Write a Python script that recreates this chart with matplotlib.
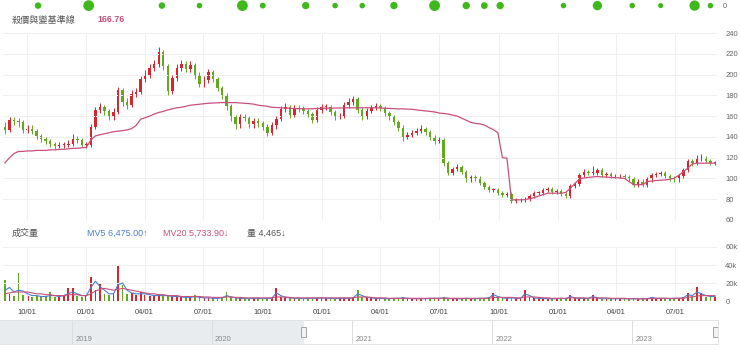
import matplotlib
matplotlib.use("Agg")
import matplotlib.pyplot as plt
import matplotlib.dates as mdates
from matplotlib.patches import Rectangle
import pandas as pd

plt.rcParams['font.family'] = ['Liberation Sans', 'Noto Sans CJK TC', 'DejaVu Sans']

W, H = 740, 355

# weekly data, first week
start = pd.Timestamp('2020-08-28')
first_open = 150

closes = [147, 156, 155, 154, 147, 148, 146, 141, 138, 136,
          133, 131, 132, 132, 133, 138, 137, 132, 132, 150,
          166, 169, 165, 159, 164, 185, 174, 171, 181, 183,
          196, 200, 206, 210, 222, 208, 184, 197, 206, 210,
          205, 209, 200, 191, 195, 202, 196, 187, 180, 170,
          159, 152, 159, 158, 152, 155, 153, 150, 144, 151,
          157, 167, 169, 161, 168, 167, 165, 162, 156, 166,
          169, 169, 164, 159, 160, 171, 174, 176, 166, 159,
          165, 168, 170, 168, 163, 159, 154, 149, 140, 142,
          144, 146, 148, 145, 140, 136, 137, 115, 105, 109,
          111, 106, 99, 101, 100, 96, 92, 89, 89, 86,
          84, 85, 78, 79, 79, 80, 83, 86, 86, 89,
          90, 87, 88, 85, 83, 93, 95, 103, 106, 105,
          105, 108, 103, 104, 102, 102, 102, 101, 99, 94,
          97, 94, 99, 103, 104, 105, 102, 100, 99, 102,
          108, 117, 115, 119, 120, 117, 115, 115]

highs = [154, 159, 159, 158, 156, 151, 151, 148, 143, 140,
         138, 135, 135, 135, 137, 143, 141, 139, 135, 152,
         169, 173, 171, 167, 168, 188, 187, 177, 185, 187,
         199, 204, 210, 214, 227, 224, 210, 200, 210, 214,
         213, 213, 211, 202, 199, 205, 204, 198, 189, 182,
         172, 161, 162, 162, 160, 158, 158, 155, 152, 154,
         160, 170, 173, 171, 171, 171, 170, 167, 164, 169,
         172, 172, 171, 166, 163, 174, 177, 179, 178, 168,
         168, 171, 173, 172, 170, 165, 161, 156, 151, 145,
         147, 149, 151, 150, 147, 142, 140, 139, 117, 111,
         114, 113, 108, 103, 103, 102, 98, 94, 91, 91,
         88, 87, 87, 81, 81, 82, 85, 88, 88, 91,
         92, 92, 90, 90, 87, 95, 97, 105, 109, 108,
         112, 110, 110, 106, 106, 104, 104, 104, 103, 101,
         99, 99, 101, 105, 106, 107, 107, 104, 102, 104,
         110, 119, 119, 123, 124, 122, 119, 117]

lows = [143, 145, 151, 150, 144, 144, 143, 138, 135, 133,
        130, 128, 129, 129, 130, 131, 134, 130, 129, 130,
        148, 163, 161, 156, 156, 162, 170, 167, 169, 178,
        181, 193, 197, 203, 207, 204, 180, 181, 194, 203,
        202, 202, 196, 188, 188, 192, 193, 184, 176, 166,
        155, 148, 149, 155, 149, 149, 150, 147, 141, 142,
        148, 155, 164, 158, 159, 164, 162, 159, 153, 154,
        163, 166, 161, 156, 157, 158, 168, 171, 163, 156,
        157, 163, 166, 165, 160, 156, 151, 146, 136, 138,
        140, 142, 144, 142, 137, 133, 134, 112, 103, 103,
        107, 104, 97, 97, 98, 94, 90, 87, 87, 84,
        82, 82, 76, 76, 77, 77, 78, 81, 84, 84,
        87, 85, 85, 83, 81, 81, 91, 93, 101, 103,
        103, 103, 101, 101, 100, 100, 100, 99, 97, 92,
        92, 92, 92, 97, 101, 102, 100, 98, 97, 97,
        100, 106, 112, 113, 117, 115, 113, 113]

base_line = [115, 120, 124, 126, 126, 126.5, 126.5, 127, 127, 127,
             127.5, 127.5, 128, 128, 128.5, 129, 129, 129.5, 130, 137,
             141, 142, 143, 144, 145, 145.5, 146, 146.7, 148, 151,
             157, 158.5, 160, 162, 163.5, 164.5, 166, 167, 168, 168.5,
             169.5, 170.5, 171, 171.5, 172, 172.4, 172.6, 172.8, 173, 173,
             173, 173, 172.7, 172.4, 172, 171.5, 170.5, 170, 169.5, 168.5,
             168.3, 168, 167.8, 167.5, 167.3, 167.2, 167, 167, 167.2, 167.4,
             167.5, 167.6, 167.7, 167.8, 167.9, 168, 168, 168, 168, 168,
             168, 168, 168, 167.8, 167.6, 167.4, 167.2, 167, 167, 166.8,
             166.5, 166, 165.5, 165, 164.5, 164, 163, 162.5, 162, 161,
             160, 158, 156, 154, 153, 152.5, 151.5, 149, 147, 144,
             120, 119.5, 79.5, 79.4, 79.4, 79.6, 80.5, 81.5, 83, 84.5,
             85.8, 85.8, 85.8, 85.8, 86.5, 90.5, 95, 99.5, 100.5, 101,
             101.5, 101.8, 101.5, 101.3, 101, 100.8, 100.5, 100, 97, 94,
             94, 94, 97, 97.5, 98, 98.3, 98.6, 99.2, 100.2, 103,
             106.5, 110, 114, 114.7, 114.7, 114.7, 114.7, 114.7]

volume_k = [23, 8, 6, 31, 7, 6, 5, 6, 5, 6,
            10, 5, 5, 6, 15, 14, 6, 5, 6, 27,
            12, 20, 8, 7, 9, 40, 18, 8, 9, 7,
            10, 7, 6, 6, 8, 6, 7, 5, 5, 4,
            4, 4, 7, 4, 3, 3, 3, 3, 4, 10,
            4, 3, 3, 3, 2, 3, 3, 2, 3, 3,
            14, 5, 4, 3, 3, 3, 2, 3, 3, 3,
            4, 3, 3, 2, 3, 3, 3, 4, 12, 5,
            4, 3, 3, 3, 2, 2, 3, 3, 4, 3,
            2, 2, 2, 2, 3, 3, 3, 4, 3, 2,
            2, 2, 3, 2, 2, 3, 3, 4, 9, 4,
            3, 3, 4, 3, 3, 12, 5, 3, 3, 3,
            2, 2, 2, 3, 2, 7, 3, 3, 3, 3,
            7, 3, 2, 2, 2, 2, 2, 2, 2, 2,
            2, 2, 2, 5, 3, 3, 3, 2, 3, 3,
            4, 9, 6, 16, 9, 5, 4, 4]

mv5_k = [12, 15, 10, 12, 11, 8, 6, 6, 5, 5,
         6, 6, 5, 6, 8, 10, 8, 6, 6, 15,
         22, 16, 12, 8, 8, 18, 20, 12, 9, 8,
         8, 8, 7, 6, 6, 6, 6, 5, 5, 4.5,
         4, 4, 5, 4, 3.5, 3.5, 3, 3, 3.5, 6,
         4.5, 3.5, 3, 3, 2.5, 3, 3, 2.5, 3, 3,
         9, 6, 4, 3.5, 3, 3, 2.5, 3, 3, 3,
         3.5, 3, 3, 2.5, 3, 3, 3, 3.5, 8, 6,
         4, 3.5, 3, 3, 2.5, 2.5, 3, 3, 3.5, 3,
         2.5, 2.5, 2.5, 2.5, 3, 3, 3, 3.5, 3, 2.5,
         2.5, 2.5, 3, 2.5, 2.5, 3, 3, 3.5, 7, 5,
         3.5, 3, 3.5, 3, 3, 8, 6, 3.5, 3, 3,
         2.5, 2.5, 2.5, 3, 2.5, 5, 3.5, 3, 3, 3,
         5, 3.5, 2.5, 2.5, 2.5, 2.5, 2.5, 2.5, 2.5, 2.5,
         2.5, 2.5, 2.5, 4, 3, 3, 3, 2.5, 3, 3,
         3.5, 7, 6, 10, 8, 6, 5, 5]

mv20_k = [8, 9, 10, 10, 10, 10, 9, 8, 8, 7,
          7, 6, 6, 6, 7, 7, 7, 6, 6, 8,
          11, 13, 14, 13, 12, 13, 14, 13, 12, 11,
          10, 9, 8, 8, 7, 7, 6, 6, 6, 5,
          5, 5, 5, 5, 4.5, 4.5, 4, 4, 4, 4.5,
          4.5, 4, 4, 3.5, 3.5, 3.5, 3.5, 3.5, 3.5, 3.5,
          4.5, 4.5, 4.5, 4, 3.5, 3.5, 3.5, 3.5, 3.5, 3.5,
          3.5, 3.5, 3.5, 3.5, 3.5, 3.5, 3.5, 3.5, 4.5, 4.5,
          4.5, 4, 3.5, 3.5, 3.5, 3, 3, 3, 3, 3,
          3, 3, 3, 3, 3, 3, 3, 3, 3, 3,
          3, 3, 3, 3, 3, 3, 3, 3, 4, 4,
          4, 4, 4, 3.5, 3.5, 4.5, 4.5, 4.5, 4, 3.5,
          3.5, 3, 3, 3, 3, 3.5, 3.5, 3.5, 3.5, 3,
          3.5, 3.5, 3.5, 3.5, 3, 3, 3, 3, 2.5, 2.5,
          2.5, 2.5, 2.5, 3, 3, 3, 3, 3, 3, 3,
          3, 4, 4.5, 5.5, 6, 6, 6, 6]

# green blobs of the panel above (cut off): week index, marker size
top_pos = [7.3, 18.5, 34.7, 43, 52.5, 57, 66.5, 73, 79, 86, 95, 102, 106, 109.5, 123.5, 131, 138.7, 145, 152.5, 156]
top_size = [22, 60, 22, 16, 60, 18, 28, 16, 16, 28, 60, 28, 24, 28, 16, 45, 16, 14, 55, 16]

title = '殺價與變基準線'
title_val = '166.76'
vol_title = '成交量'
mv5_txt = 'MV5 6,475.00↑'
mv20_txt = 'MV20 5,733.90↓'
vol_txt = '量 4,465↓'
price_ticks = [60, 80, 100, 120, 140, 160, 180, 200, 220, 240]
vol_ticks = [0, 20000, 40000, 60000]
vol_ticklabels = ['0', '20k', '40k', '60k']
nav_years = [2019, 2020, 2021, 2022, 2023]

RED = '#d7262e'
GREEN = '#63a91f'
PINK = '#c9507e'
BLUE = '#4a7fd0'
GRID = '#efefef'
TXT = '#666666'

weeks = pd.date_range(start, periods=len(closes), freq='7D')
opens = [first_open] + closes[:-1]
up = [c >= o for o, c in zip(opens, closes)]
colors = [RED if u else GREEN for u in up]

px_day = 0.646  # pixels per calendar day in main panels


def box(x0, y0, x1, y1):
    return [x0 / W, 1 - y1 / H, (x1 - x0) / W, (y1 - y0) / H]


x_left = start - pd.Timedelta(days=2 / px_day)
x_right = start + pd.Timedelta(days=712 / px_day)

fig = plt.figure(figsize=(W / 100, H / 100), dpi=100)

# ---- top strip
ax_top = fig.add_axes(box(3, 0, 717, 14))
ax_top.scatter([weeks[0] + pd.Timedelta(days=7 * p) for p in top_pos], [0.6] * len(top_pos),
               s=top_size, color='#3fb81c', edgecolors='none', clip_on=False)
ax_top.set_xlim(x_left, x_right)
ax_top.set_ylim(0, 1)
ax_top.axis('off')
fig.text(723 / W, 1 - 7 / H, '0', fontsize=5.5, color=TXT, va='center')

# ---- price panel
ax = fig.add_axes(box(3, 33, 717, 220))
bodies_low = [min(o, c) for o, c in zip(opens, closes)]
bodies_h = [max(abs(c - o), 0.8) for o, c in zip(opens, closes)]
ax.vlines(weeks, lows, highs, colors=colors, lw=0.7)
ax.bar(weeks, bodies_h, bottom=bodies_low, width=3.8, color=colors, linewidth=0)
ax.plot(weeks, base_line, color=PINK, lw=0.9)
ax.set_xlim(x_left, x_right)
ax.set_ylim(60, 240)
ax.set_yticks(price_ticks)
ax.yaxis.tick_right()
ax.tick_params(axis='y', length=0, labelsize=5.5, labelcolor=TXT, pad=6)
ax.xaxis.set_major_locator(mdates.MonthLocator(bymonth=[1, 4, 7, 10]))
ax.tick_params(axis='x', length=0, labelbottom=False)
ax.grid(True, color=GRID, lw=0.7)
for s in ax.spines.values():
    s.set_visible(False)

fig.text(12 / W, 1 - 20 / H, title, fontsize=6.6, color='#555555', va='center')
fig.text(97 / W, 1 - 20 / H, title_val, fontsize=6.4, color=PINK, va='center', fontweight='bold')

# ---- volume panel
av = fig.add_axes(box(3, 247, 717, 301))
vol = [v * 1000 for v in volume_k]
av.bar(weeks, vol, width=2.8, color=colors, linewidth=0)
av.plot(weeks, [v * 1000 for v in mv5_k], color=BLUE, lw=0.8)
av.plot(weeks, [v * 1000 for v in mv20_k], color=PINK, lw=0.8)
av.set_xlim(x_left, x_right)
av.set_ylim(0, 60000)
av.set_yticks(vol_ticks)
av.set_yticklabels(vol_ticklabels)
av.yaxis.tick_right()
av.tick_params(axis='y', length=0, labelsize=5.5, labelcolor=TXT, pad=6)
av.xaxis.set_major_locator(mdates.MonthLocator(bymonth=[1, 4, 7, 10]))
av.xaxis.set_major_formatter(mdates.DateFormatter('%m/%d'))
av.tick_params(axis='x', length=0, labelsize=5.5, labelcolor='#444444', pad=6)
av.grid(True, color=GRID, lw=0.7)
for s in av.spines.values():
    s.set_visible(False)

fig.text(12 / W, 1 - 233 / H, vol_title, fontsize=6.5, color='#555555', va='center')
fig.text(87 / W, 1 - 233 / H, mv5_txt, fontsize=6.5, color=BLUE, va='center')
fig.text(163 / W, 1 - 233 / H, mv20_txt, fontsize=6.5, color=PINK, va='center')
fig.text(247 / W, 1 - 233 / H, vol_txt, fontsize=6.5, color='#555555', va='center')

# ---- navigator
nav_px_day = 140 / 365.25
nav_start = pd.Timestamp('2018-06-27')
nav_end = nav_start + pd.Timedelta(days=718 / nav_px_day)
an = fig.add_axes(box(0, 320, 718, 344))
an.set_xlim(nav_start, nav_end)
an.set_ylim(0, 1)
an.axvspan(nav_start, weeks[0], color='#e8ecef', lw=0)
for yr in nav_years:
    d = pd.Timestamp(f'{yr}-01-01')
    an.axvline(d, color='#dddddd', lw=0.7)
    an.text(d + pd.Timedelta(days=8), 0.2, str(yr), fontsize=5.5, color='#888888', va='center')
hw = 5 / nav_px_day
for d in [weeks[0], nav_end - pd.Timedelta(days=0.5 * hw)]:
    an.add_patch(Rectangle((mdates.date2num(d) - hw / 2, 0.3), hw, 0.42,
                           facecolor='#f2f2f2', edgecolor='#999999', lw=0.6, zorder=5))
an.set_xticks([])
an.set_yticks([])
for s in an.spines.values():
    s.set_color('#e3e3e3')
    s.set_linewidth(0.7)
an.spines['left'].set_visible(False)

fig.savefig('out.png', dpi=100)
